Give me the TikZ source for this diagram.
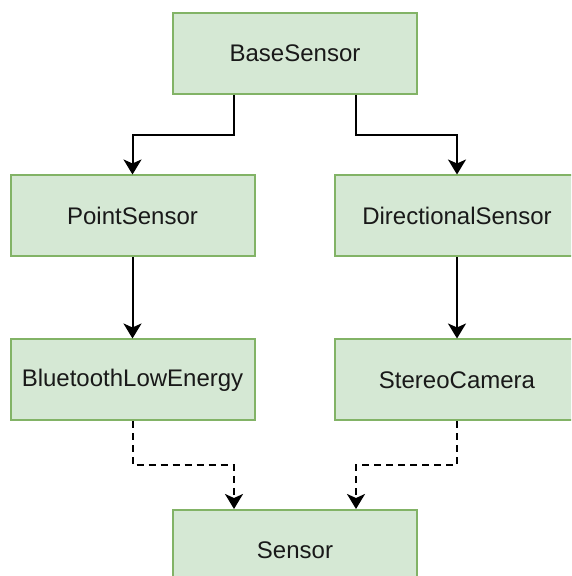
\documentclass[tikz,border=0pt]{standalone}
\usepackage{fontspec}
\setmainfont{Liberation Sans}
\usetikzlibrary{arrows.meta}
\definecolor{boxfill}{HTML}{D5E8D4}
\definecolor{boxline}{HTML}{82B366}
\begin{document}
\begin{tikzpicture}[x=1pt,y=1pt,
  classbox/.style={draw=boxline, fill=boxfill, line width=2pt, minimum width=244pt, minimum height=81pt, inner sep=0pt, font=\fontsize{24}{29}\selectfont, text=black!90},
  inherit/.style={line width=2pt, -{Stealth[length=15pt,width=18pt,inset=4pt]}},
  realize/.style={inherit, dash pattern=on 7pt off 5pt}]

\useasboundingbox (0,0) rectangle (571,576);
\clip (0,0) rectangle (571,576);

\node[classbox] (base) at (295,522.5) {BaseSensor};
\node[classbox] (point) at (132.5,360) {PointSensor};
\node[classbox] (directional) at (457,360) {DirectionalSensor};
\node[classbox] (ble) at (132.5,196) {BluetoothLowEnergy};
\node[classbox] (stereo) at (457,196) {StereoCamera};
\node[classbox] (sensor) at (295,25.5) {Sensor};

\draw[inherit] ([xshift=-61pt]base.south) -- ++(0,-40) -| (point.north);
\draw[inherit] ([xshift=61pt]base.south) -- ++(0,-40) -| (directional.north);
\draw[inherit] (point) -- (ble);
\draw[inherit] (directional) -- (stereo);
\draw[realize] (ble.south) -- ++(0,-44) -| ([xshift=-61pt]sensor.north);
\draw[realize] (stereo.south) -- ++(0,-44) -| ([xshift=61pt]sensor.north);

\end{tikzpicture}
\end{document}
